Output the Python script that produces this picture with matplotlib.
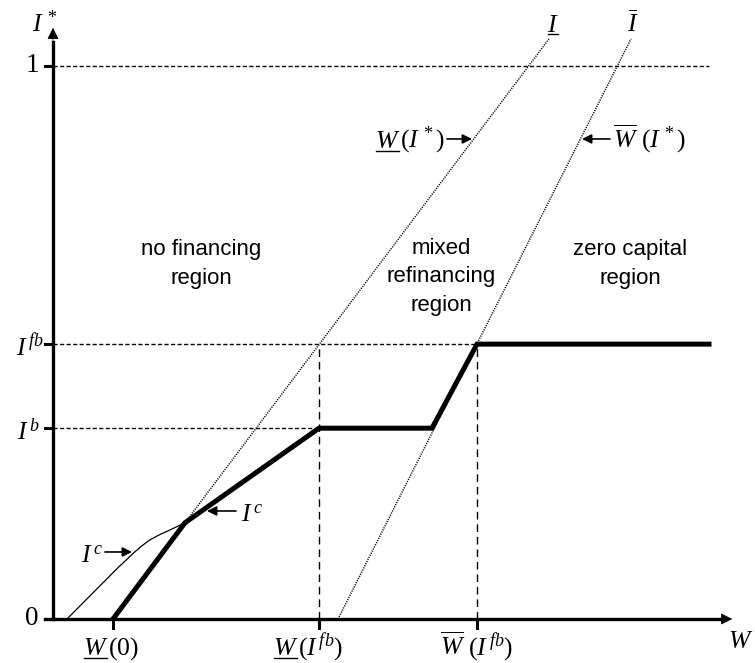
import numpy as np
import matplotlib
matplotlib.use('Agg')
import matplotlib.pyplot as plt

plt.rcParams['mathtext.fontset'] = 'custom'
plt.rcParams['mathtext.rm'] = 'Liberation Serif'
plt.rcParams['mathtext.it'] = 'Liberation Serif:italic'
plt.rcParams['lines.scale_dashes'] = False

# key levels (W in chart units, I* as share of 1)
I_one = 1.0
I_fb = 0.497
I_b = 0.345
W_0 = 0.60
W_fb_low = 2.66
W_fb_high = 4.24

# optimal investment I* (thick path)
opt_W = [0.60, 1.32, 2.66, 3.79, 4.24, 6.56]
opt_I = [0.0, 0.174, 0.345, 0.345, 0.497, 0.497]

# I^c curve (thin)
ic_W = [0.14, 0.47, 0.64, 0.74, 0.81, 0.88, 0.96, 1.05, 1.17, 1.32]
ic_I = [0.0, 0.060, 0.091, 0.108, 0.120, 0.131, 0.142, 0.151, 0.161, 0.174]

# boundaries W_(I*) and W-bar(I*)
low_W = [1.32, 4.96]
low_I = [0.174, 1.049]
high_W = [2.85, 5.78]
high_I = [0.0, 1.049]

W_end = 6.56
W_axis_end = 6.82
I_axis_end = 1.074

serif = 18.5
sans = 16

fig = plt.figure(figsize=(7.55, 6.63), dpi=100)
ax = fig.add_axes([0, 0, 1, 1])
ax.set_xlim(-0.53, 7.02)
ax.set_ylim(-0.0796, 1.1193)
ax.axis('off')

# pixel helpers for label placement
def px(x):
    return (x - 53) / 100.0

def py(y):
    return (619 - y) / 553.0

hd = dict(color='k', lw=1, dashes=(3.0, 1.7))
vd = dict(color='k', lw=1, dashes=(5.5, 3.5))
dot = dict(color='k', lw=1.1, dashes=(0.8, 0.9))

# reference dashed lines
ax.plot([0, W_end], [I_one, I_one], **hd)
ax.plot([0, W_fb_high], [I_fb, I_fb], **hd)
ax.plot([0, W_fb_low], [I_b, I_b], **hd)
ax.plot([W_fb_low, W_fb_low], [0, I_fb], **vd)
ax.plot([W_fb_high, W_fb_high], [0, I_fb], **vd)

# dotted boundaries
ax.plot(low_W, low_I, **dot)
ax.plot(high_W, high_I, **dot)

# curves
ax.plot(ic_W, ic_I, color='k', lw=0.9, solid_joinstyle='round')
ax.plot(opt_W, opt_I, color='k', lw=3.6, solid_joinstyle='miter')

# axes with arrows
ax.plot([px(45), W_axis_end - 0.1], [0, 0], color='k', lw=2.4)
ax.plot([0, 0], [0, I_axis_end - 0.03], color='k', lw=2.4)
ax.annotate('', xy=(W_axis_end, 0), xytext=(W_axis_end - 0.2, 0),
            arrowprops=dict(arrowstyle='-|>', color='k', lw=0.5, mutation_scale=18))
ax.annotate('', xy=(0, I_axis_end), xytext=(0, I_axis_end - 0.05),
            arrowprops=dict(arrowstyle='-|>', color='k', lw=0.5, mutation_scale=18))

# ticks
for lv in [0, I_b, I_fb, I_one]:
    ax.plot([px(45), 0], [lv, lv], color='k', lw=2.2)
for w in [W_0, W_fb_low, W_fb_high]:
    ax.plot([w, w], [0, py(628)], color='k', lw=2.2)

# y labels
ax.text(px(39), I_one, '1', fontsize=serif + 1, family='Liberation Serif', ha='right', va='center')
ax.text(px(39), 0, '0', fontsize=serif + 1, family='Liberation Serif', ha='right', va='center')
ax.text(px(44), py(356), r'$I^{\,fb}$', fontsize=serif, ha='right', va='baseline')
ax.text(px(40), py(440), r'$I^{\,b}$', fontsize=serif, ha='right', va='baseline')
ax.text(px(32), py(32), r'$I^{\,*}$', fontsize=serif, ha='left', va='baseline')
ax.text(px(728), py(648), r'$W$', fontsize=serif, ha='left', va='baseline')

fig.canvas.draw()
rend = fig.canvas.get_renderer()

def underline(t, gap=2):
    bb = t.get_window_extent(rend)
    x0, _ = ax.transData.inverted().transform((bb.x0, bb.y0))
    x1, _ = ax.transData.inverted().transform((bb.x1, bb.y0))
    yb = t.get_position()[1] - gap / 553.0
    ax.plot([x0 + 0.01, x1 - 0.01], [yb, yb], color='k', lw=1)

def wlabel(xr, yb, rest, under):
    if under:
        t = ax.text(xr, yb, r'$W$', fontsize=serif, ha='right', va='baseline')
        underline(t, 3)
    else:
        ax.text(xr, yb, r'$\overline{W}$', fontsize=serif, ha='right', va='baseline')
    ax.text(xr, yb, rest, fontsize=serif, ha='left', va='baseline')

# x tick labels
wlabel(px(108), py(655), r'$(0)$', True)
wlabel(px(298), py(655), r'$(I^{\,fb})$', True)
wlabel(px(465), py(655), r'$\,(I^{\,fb})$', False)

# boundary labels
t = ax.text(px(547), py(32), r'$I$', fontsize=serif, ha='left', va='baseline')
underline(t, 2)
ax.text(px(627), py(32), r'$\bar{I}$', fontsize=serif, ha='left', va='baseline')

wlabel(px(400), py(148), r'$(I^{\,*})$', True)
wlabel(px(638), py(148), r'$\,(I^{\,*})$', False)

arr = dict(arrowstyle='-|>', color='k', lw=1.2, mutation_scale=14, shrinkA=0, shrinkB=0)
ax.annotate('', xy=(px(472), py(139)), xytext=(px(447), py(139)), arrowprops=arr)
ax.annotate('', xy=(px(582), py(139)), xytext=(px(610), py(139)), arrowprops=arr)

# I^c labels
ax.text(px(81), py(563), r'$I^{\,c}$', fontsize=serif, ha='left', va='baseline')
ax.annotate('', xy=(px(132), py(552)), xytext=(px(105), py(552)), arrowprops=arr)
ax.text(px(241), py(522), r'$I^{\,c}$', fontsize=serif, ha='left', va='baseline')
ax.annotate('', xy=(px(207), py(511)), xytext=(px(236), py(511)), arrowprops=arr)

# region texts
rkw = dict(fontsize=sans, family='Liberation Sans', ha='center', va='center', linespacing=1.45)
ax.text(px(201), py(264), 'no financing\nregion', **rkw)
ax.text(px(441), py(277), 'mixed\nrefinancing\nregion', **rkw)
ax.text(px(630), py(264), 'zero capital\nregion', **rkw)

fig.savefig('out.png', dpi=100)
